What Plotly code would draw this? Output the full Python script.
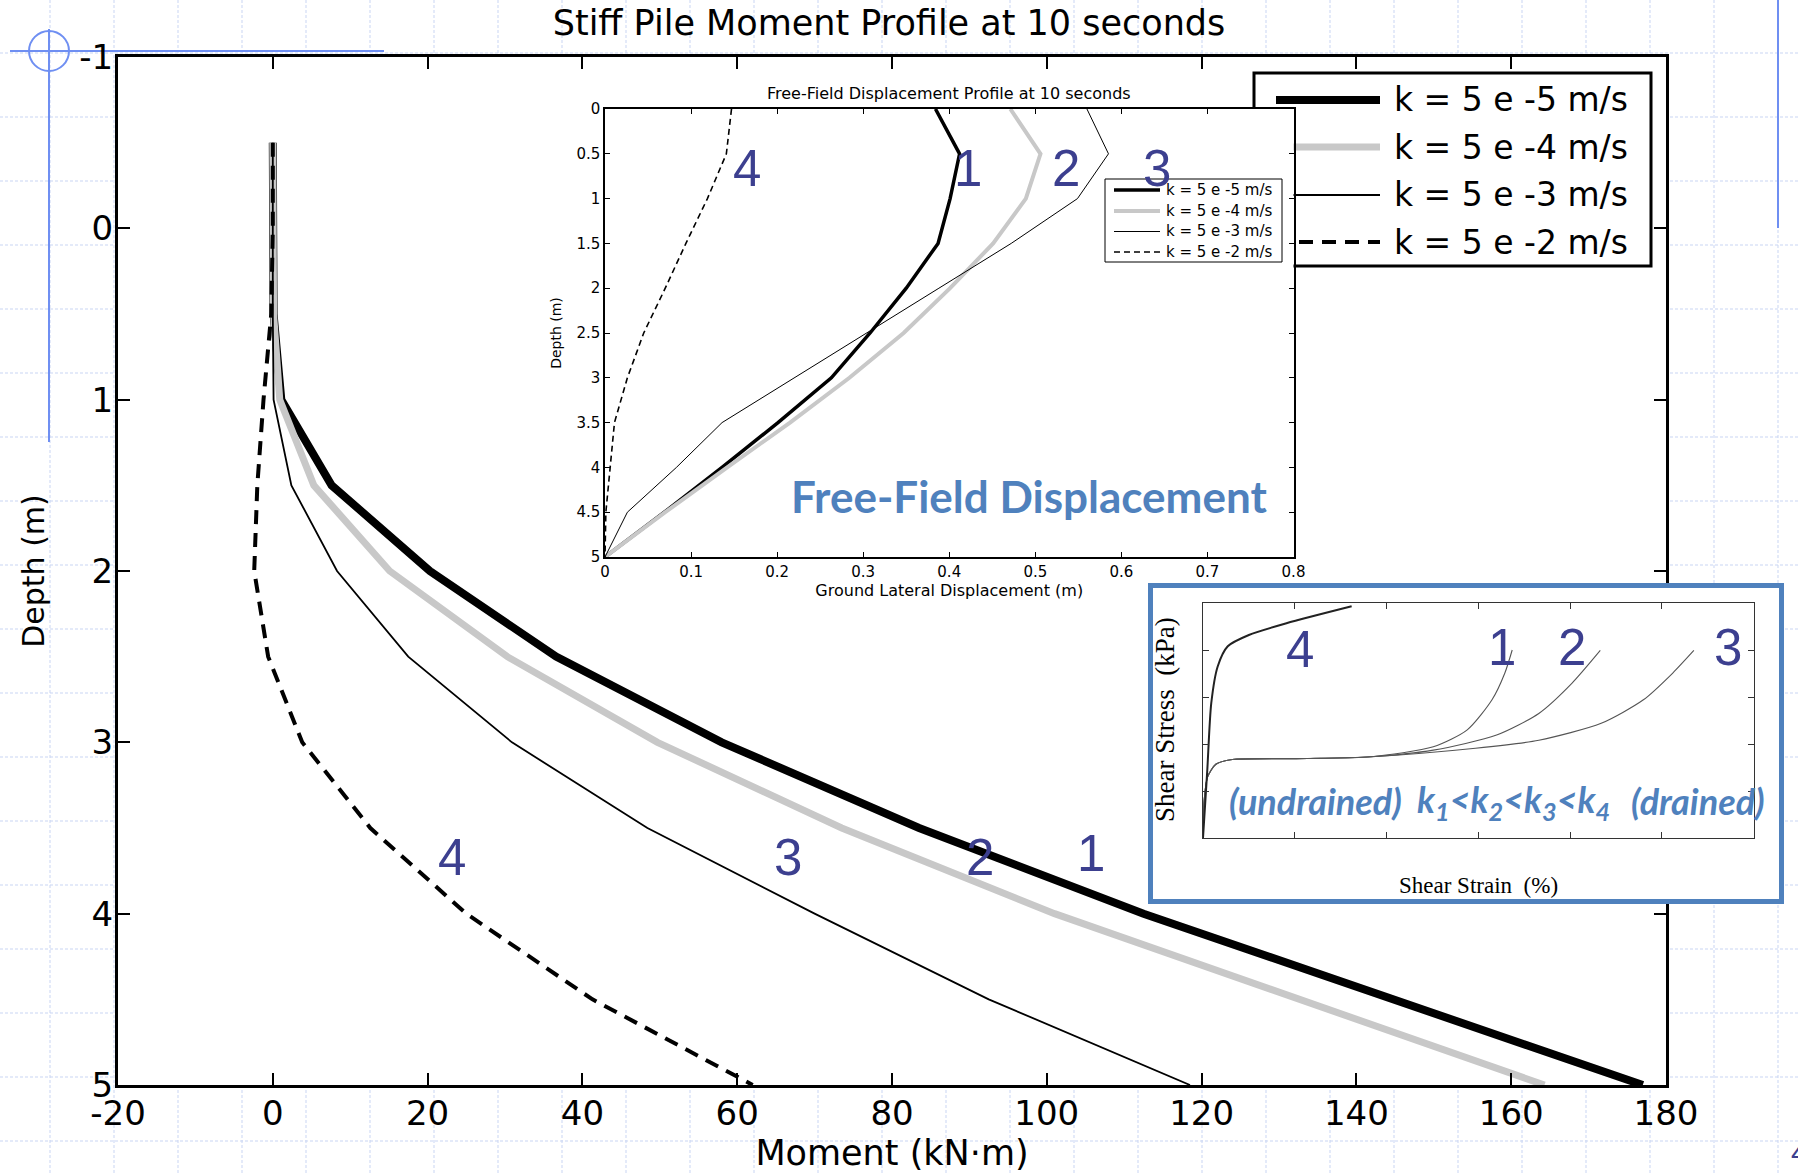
import plotly.graph_objects as go

W, H = 1798, 1173


def X(px):
    """Horizontal pixel -> paper fraction."""
    return px / W


def Y(py):
    """Vertical pixel (from top) -> paper fraction."""
    return 1 - py / H


# ---------------- main chart: pile bending moment vs depth ----------------
depth_m = [-0.5, 0, 0.5, 1, 1.5, 2, 2.5, 3, 3.5, 4, 4.5, 5]
moment_k1 = [0, 0, 0.1, 1.1, 7.6, 20.3, 36.6, 58.0, 83.5, 112.5, 145.0, 177.0]
moment_k2 = [0, 0, 0.1, 0.9, 5.3, 15.1, 30.3, 49.7, 73.5, 101.0, 132.5, 164.3]
moment_k3 = [0, 0, 0, 0.1, 2.4, 8.3, 17.5, 30.9, 48.4, 70.0, 92.5, 118.5]
moment_k4 = [0, 0, -0.2, -1.2, -2.0, -2.4, -0.6, 3.8, 12.6, 25.0, 41.3, 62.0]
perm_labels = ["k = 5 e -5 m/s", "k = 5 e -4 m/s", "k = 5 e -3 m/s", "k = 5 e -2 m/s"]

x_ticks = [-20, 0, 20, 40, 60, 80, 100, 120, 140, 160, 180]
y_ticks = [-1, 0, 1, 2, 3, 4, 5]

# ---------------- upper inset: free-field displacement ----------------
ff_depth = [0, 0.5, 1, 1.5, 2, 2.5, 3, 3.5, 4, 4.5, 5]
ff_k1 = [0.384, 0.412, 0.401, 0.387, 0.350, 0.308, 0.263, 0.201, 0.136, 0.069, 0.0]
ff_k2 = [0.471, 0.506, 0.489, 0.451, 0.401, 0.347, 0.284, 0.215, 0.142, 0.070, 0.0]
ff_k3 = [0.560, 0.585, 0.549, 0.472, 0.388, 0.304, 0.220, 0.136, 0.083, 0.026, 0.0]
ff_k4 = [0.147, 0.141, 0.119, 0.094, 0.070, 0.045, 0.026, 0.011, 0.006, 0.001, 0.0]

# ---------------- lower inset: stress-strain sketches ----------------
ss_strain_4 = [0, 0.046, 0.09, 0.16, 0.27, 0.5, 0.91, 1.62]
ss_stress_4 = [0, 1.42, 2.87, 3.65, 4.08, 4.32, 4.57, 4.93]
ss_strain_1 = [0, 0.01, 0.05, 0.14, 0.32, 1.14, 1.83, 2.51, 2.88, 3.15, 3.29, 3.37]
ss_stress_1 = [0, 0.73, 1.30, 1.57, 1.67, 1.69, 1.73, 1.94, 2.30, 2.94, 3.51, 4.00]
ss_strain_2 = [0, 0.01, 0.05, 0.14, 0.32, 1.14, 1.83, 2.51, 3.20, 3.66, 4.02, 4.33]
ss_stress_2 = [0, 0.73, 1.30, 1.57, 1.67, 1.69, 1.73, 1.87, 2.19, 2.65, 3.29, 3.99]
ss_strain_3 = [0, 0.01, 0.05, 0.14, 0.32, 1.14, 1.83, 2.97, 3.66, 4.34, 4.80, 5.12, 5.35]
ss_stress_3 = [0, 0.73, 1.30, 1.57, 1.67, 1.69, 1.73, 1.91, 2.08, 2.44, 2.94, 3.51, 3.99]

# ---------------- styling ----------------
SANS = "DejaVu Sans"
TAG_COLOR = "#3c3f8f"
ACCENT = "#4f81bd"
DECOR = "#6f8ff2"
GRIDC = "#c9d5f3"

main_styles = [
    dict(color="black", width=8),
    dict(color="#c8c8c8", width=7),
    dict(color="black", width=1.8),
    dict(color="black", width=4, dash="14px,9px"),
]
inset_styles = [
    dict(color="black", width=3.5),
    dict(color="#c8c8c8", width=4),
    dict(color="black", width=1),
    dict(color="black", width=1.6, dash="6px,4px"),
]

fig = go.Figure()

for xs, st, name in zip([moment_k1, moment_k2, moment_k3, moment_k4], main_styles, perm_labels):
    fig.add_trace(go.Scatter(x=xs, y=depth_m, mode="lines", line=st, name=name,
                             showlegend=False, xaxis="x", yaxis="y"))

for xs, st, name in zip([ff_k1, ff_k2, ff_k3, ff_k4], inset_styles, perm_labels):
    fig.add_trace(go.Scatter(x=xs, y=ff_depth, mode="lines", line=st, name=name,
                             showlegend=False, xaxis="x2", yaxis="y2"))

# white panel behind the stress-strain sketch
fig.add_trace(go.Scatter(x=[None], y=[None], mode="lines", showlegend=False,
                         hoverinfo="skip", xaxis="x3", yaxis="y3"))

for xs, ys, w, c in [
    (ss_strain_1, ss_stress_1, 1.1, "#555555"),
    (ss_strain_2, ss_stress_2, 1.1, "#555555"),
    (ss_strain_3, ss_stress_3, 1.1, "#555555"),
    (ss_strain_4, ss_stress_4, 2.0, "#222222"),
]:
    fig.add_trace(go.Scatter(x=xs, y=ys, mode="lines",
                             line=dict(color=c, width=w, shape="spline", smoothing=0.7),
                             showlegend=False, xaxis="x4", yaxis="y4"))

# ---------------- axes ----------------
main_tickfont = dict(family=SANS, size=34, color="black")
inset_tickfont = dict(family=SANS, size=15, color="black")

common_main = dict(showline=True, linewidth=3, linecolor="black", mirror="ticks",
                   ticks="inside", ticklen=12, tickwidth=2, tickcolor="black",
                   showgrid=False, zeroline=False, tickfont=main_tickfont)
common_inset = dict(showline=True, linewidth=1.5, linecolor="black", mirror="ticks",
                    ticks="inside", ticklen=5, tickwidth=1, tickcolor="black",
                    showgrid=False, zeroline=False, tickfont=inset_tickfont)

fig.update_layout(
    width=W, height=H,
    margin=dict(l=0, r=0, t=0, b=0, autoexpand=False),
    paper_bgcolor="white", plot_bgcolor="white",
    title=dict(text="Stiff Pile Moment Profile at 10 seconds",
               font=dict(family=SANS, size=35, color="black"),
               x=X(889), y=Y(23), xanchor="center", yanchor="middle"),
    xaxis=dict(domain=[X(118), X(1666)], range=[-20, 180], tickvals=x_ticks,
               ticktext=[str(v) for v in x_ticks],
               anchor="y", ticklabelstandoff=-4,
               title=dict(text="Moment (kN·m)", standoff=6,
                          font=dict(family=SANS, size=35, color="black")),
               **common_main),
    yaxis=dict(domain=[Y(1085), Y(57)], range=[5, -1], tickvals=y_ticks,
               ticktext=[str(v) for v in y_ticks],
               anchor="x", ticklabelstandoff=-5,
               title=dict(text="Depth (m)", standoff=26,
                          font=dict(family=SANS, size=30, color="black")),
               **common_main),
    xaxis2=dict(domain=[X(605), X(1293.5)], range=[0, 0.8], dtick=0.1, tick0=0,
                anchor="y2",
                title=dict(text="Ground Lateral Displacement (m)", standoff=1,
                           font=dict(family=SANS, size=16, color="black")),
                **common_inset),
    yaxis2=dict(domain=[Y(557), Y(109)], range=[5, 0], dtick=0.5, tick0=0,
                anchor="x2",
                title=dict(text="Depth (m)", standoff=11,
                           font=dict(family=SANS, size=14, color="black")),
                **common_inset),
    xaxis3=dict(domain=[X(1148), X(1784)], range=[0, 1], visible=False, anchor="y3"),
    yaxis3=dict(domain=[Y(904), Y(583)], range=[0, 1], visible=False, anchor="x3"),
    xaxis4=dict(domain=[X(1203), X(1753.5)], range=[0, 6], dtick=1, anchor="y4",
                showticklabels=False, showline=True, linewidth=1, linecolor="#333333",
                mirror="ticks", ticks="inside", ticklen=6, tickcolor="#333333",
                showgrid=False, zeroline=False),
    yaxis4=dict(domain=[Y(838), Y(603)], range=[0, 5], dtick=1, anchor="x4",
                showticklabels=False, showline=True, linewidth=1, linecolor="#333333",
                mirror="ticks", ticks="inside", ticklen=6, tickcolor="#333333",
                showgrid=False, zeroline=False),
)

# ---------------- shapes ----------------
shapes = []

# dashed page grid
gx = 50
while gx < W:
    shapes.append(dict(type="line", xref="paper", yref="paper", layer="below",
                       x0=X(gx), x1=X(gx), y0=0, y1=1,
                       line=dict(color=GRIDC, width=1, dash="3px,2px")))
    gx += 64
gy = 53
while gy < H:
    shapes.append(dict(type="line", xref="paper", yref="paper", layer="below",
                       x0=0, x1=1, y0=Y(gy), y1=Y(gy),
                       line=dict(color=GRIDC, width=1, dash="3px,2px")))
    gy += 64

# plotting area is plain white
shapes.append(dict(type="rect", xref="paper", yref="paper", layer="below",
                   x0=X(118), x1=X(1666), y0=Y(1085), y1=Y(57),
                   fillcolor="white", line=dict(width=0)))

# decorative cross-hair and edge line
shapes += [
    dict(type="line", xref="paper", yref="paper", layer="below",
         x0=X(10), x1=X(384), y0=Y(51), y1=Y(51), line=dict(color=DECOR, width=2)),
    dict(type="line", xref="paper", yref="paper", layer="below",
         x0=X(49), x1=X(49), y0=Y(29), y1=Y(442), line=dict(color=DECOR, width=2)),
    dict(type="circle", xref="paper", yref="paper", layer="below",
         x0=X(29), x1=X(69), y0=Y(71), y1=Y(31), line=dict(color=DECOR, width=2)),
    dict(type="line", xref="paper", yref="paper", layer="below",
         x0=X(1778), x1=X(1778), y0=Y(0), y1=Y(228), line=dict(color=DECOR, width=2)),
]

# main legend (box + line samples)
shapes.append(dict(type="rect", xref="paper", yref="paper", layer="below",
                   x0=X(1254), x1=X(1651), y0=Y(266), y1=Y(73),
                   fillcolor="white", line=dict(color="black", width=3)))
leg_rows = [100, 147, 195, 242]
for row, st in zip(leg_rows, main_styles):
    shapes.append(dict(type="line", xref="paper", yref="paper", layer="below",
                       x0=X(1276), x1=X(1380), y0=Y(row), y1=Y(row), line=st))

# inset legend (box + line samples)
shapes.append(dict(type="rect", xref="paper", yref="paper", layer="above",
                   x0=X(1105), x1=X(1282), y0=Y(262), y1=Y(179),
                   fillcolor="white", line=dict(color="black", width=1)))
ileg_rows = [190, 211, 231.5, 252]
for row, st in zip(ileg_rows, inset_styles):
    shapes.append(dict(type="line", xref="paper", yref="paper", layer="above",
                       x0=X(1114), x1=X(1160), y0=Y(row), y1=Y(row), line=st))

# blue frame of the stress-strain panel
shapes.append(dict(type="rect", xref="paper", yref="paper", layer="above",
                   x0=X(1150.5), x1=X(1781.5), y0=Y(901.5), y1=Y(585.5),
                   line=dict(color=ACCENT, width=5)))

fig.update_layout(shapes=shapes)

# ---------------- annotations ----------------
ann = []


def text(px, py, s, size, color="black", family=SANS, xanchor="center",
         yanchor="middle", angle=0, **fkw):
    ann.append(dict(x=X(px), y=Y(py), xref="paper", yref="paper", text=s,
                    showarrow=False, xanchor=xanchor, yanchor=yanchor, textangle=angle,
                    font=dict(family=family, size=size, color=color, **fkw)))


for row, lab in zip(leg_rows, perm_labels):
    text(1392, row, lab, 33, xanchor="left")
for row, lab in zip(ileg_rows, perm_labels):
    text(1164, row, lab, 15, xanchor="left")

text(949, 93, "Free-Field Displacement Profile at 10 seconds", 16)

# curve tags on the main chart
for px, py, s in [(452, 857, "4"), (788, 857, "3"), (980, 857, "2"), (1091, 853, "1")]:
    text(px, py, s, 51, color=TAG_COLOR, family="Liberation Sans")
# curve tags on the free-field inset
for px, py, s in [(746.5, 168, "4"), (968, 168, "1"), (1066, 168, "2"), (1157, 168, "3")]:
    text(px, py, s, 51, color=TAG_COLOR, family="Liberation Sans")
# curve tags on the stress-strain panel
for px, py, s in [(1300, 649, "4"), (1502, 647, "1"), (1572, 647, "2"), (1728, 647, "3")]:
    text(px, py, s, 51, color=TAG_COLOR, family="Liberation Sans")

text(1029, 496, "Free-Field Displacement", 44, color=ACCENT, family="Lato", weight="bold")

text(1315.5, 801, "(undrained)", 36, color=ACCENT, family="Lato", weight="bold", style="italic")
text(1513, 801, "k<sub>1</sub>&lt;k<sub>2</sub>&lt;k<sub>3</sub>&lt;k<sub>4</sub>", 36,
     color=ACCENT, family="Lato", weight="bold", style="italic")
text(1698, 801, "(drained)", 36, color=ACCENT, family="Lato", weight="bold", style="italic")

text(1478, 885, "Shear Strain\u00a0 (%)", 23, family="Liberation Serif")
text(1165, 720, "Shear Stress\u00a0 (kPa)", 27, family="Liberation Serif", angle=-90)

# page number peeking in at the corner
text(1789, 1152, "4", 30, color=TAG_COLOR, family="Liberation Sans", xanchor="left")

fig.update_layout(annotations=ann)

fig.write_html("out.html")
